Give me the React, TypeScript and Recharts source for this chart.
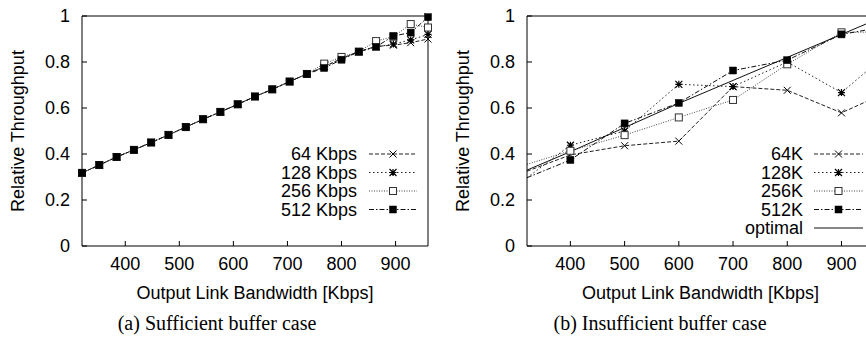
import React from 'react';
import { LineChart, Line, XAxis, YAxis, Legend } from 'recharts';

// (a) sufficient buffer: samples every 32 Kbps
const bwSufficient = [320, 352, 384, 416, 448, 480, 512, 544, 576, 608, 640, 672, 704, 736, 768, 800, 832, 864, 896, 928, 960];
const suff64 = [0.318, 0.352, 0.387, 0.418, 0.45, 0.483, 0.517, 0.551, 0.583, 0.616, 0.65, 0.681, 0.715, 0.748, 0.78, 0.815, 0.845, 0.868, 0.873, 0.884, 0.9];
const suff128 = [0.318, 0.352, 0.387, 0.418, 0.45, 0.483, 0.517, 0.551, 0.583, 0.616, 0.65, 0.681, 0.715, 0.748, 0.78, 0.815, 0.845, 0.866, 0.878, 0.896, 0.92];
const suff256 = [0.318, 0.352, 0.387, 0.418, 0.45, 0.483, 0.517, 0.551, 0.583, 0.616, 0.65, 0.681, 0.715, 0.748, 0.793, 0.822, 0.845, 0.891, 0.91, 0.965, 0.95];
const suff512 = [0.318, 0.352, 0.387, 0.418, 0.45, 0.483, 0.517, 0.551, 0.583, 0.616, 0.65, 0.681, 0.715, 0.748, 0.774, 0.81, 0.845, 0.866, 0.913, 0.928, 0.995];

// (b) insufficient buffer (first and last points sit on / past the frame edge)
const bwInsufficient = [320, 400, 500, 600, 700, 800, 900, 960];
const insuff64 = [0.325, 0.396, 0.436, 0.456, 0.693, 0.677, 0.579, 0.643];
const insuff128 = [0.297, 0.438, 0.5, 0.703, 0.693, 0.8, 0.667, 0.787];
const insuff256 = [0.355, 0.414, 0.482, 0.559, 0.635, 0.79, 0.929, 0.93];
const insuff512 = [0.297, 0.374, 0.533, 0.622, 0.763, 0.808, 0.92, 0.945];
const insuffOptimal = [0.33, 0.41, 0.515, 0.62, 0.72, 0.82, 0.92, 0.98];

const xTicks = [400, 500, 600, 700, 800, 900];
const yTicks = [0, 0.2, 0.4, 0.6, 0.8, 1];

const sufficientRows = bwSufficient.map((bw, i) => ({
  bw, k64: suff64[i], k128: suff128[i], k256: suff256[i], k512: suff512[i]
}));
const insufficientRows = bwInsufficient.map((bw, i) => ({
  bw, k64: insuff64[i], k128: insuff128[i], k256: insuff256[i], k512: insuff512[i], opt: insuffOptimal[i]
}));

const FONT = '"Liberation Sans", Arial, sans-serif';
const SERIF = '"Liberation Serif", "Times New Roman", serif';

type MarkerKind = 'cross' | 'star' | 'box' | 'filled' | 'none';

const styles: Record<string, { dash?: string; marker: MarkerKind; color: string }> = {
  k64: { dash: '4 2', marker: 'cross', color: '#222' },
  k128: { dash: '1.5 2.5', marker: 'star', color: '#222' },
  k256: { dash: '1 1.5', marker: 'box', color: '#444' },
  k512: { dash: '5 2 1.5 2', marker: 'filled', color: '#111' },
  opt: { marker: 'none', color: '#111' },
};

const Marker = ({ kind, cx, cy }: { kind: MarkerKind; cx?: number; cy?: number }) => {
  if (cx == null || cy == null || kind === 'none') return null;
  const s = 3.5;
  if (kind === 'cross') {
    return <path d={`M${cx - s},${cy - s}L${cx + s},${cy + s}M${cx - s},${cy + s}L${cx + s},${cy - s}`} stroke="#000" strokeWidth={1} fill="none" />;
  }
  if (kind === 'star') {
    return <path d={`M${cx - s},${cy - s}L${cx + s},${cy + s}M${cx - s},${cy + s}L${cx + s},${cy - s}M${cx},${cy - s}L${cx},${cy + s}M${cx - s},${cy}L${cx + s},${cy}`} stroke="#000" strokeWidth={1.2} fill="none" />;
  }
  if (kind === 'box') {
    return <rect x={cx - s} y={cy - s} width={2 * s} height={2 * s} fill="#fff" stroke="#333" strokeWidth={1} />;
  }
  return <rect x={cx - s} y={cy - s} width={2 * s} height={2 * s} fill="#000" stroke="#000" strokeWidth={0.5} />;
};

// skipFirst: in (b) the first sample lies on the frame, gnuplot shows no point there
const makeDot = (key: string, skipFirst = false) => (p: any) => {
  if (skipFirst && p.index === 0) return <g key={`${key}-${p.index}`} />;
  return <Marker key={`${key}-${p.index}`} kind={styles[key].marker} cx={p.cx} cy={p.cy} />;
};

const tickStyle = { fill: '#000', fontSize: 18, fontFamily: FONT };

const XLabel = ({ viewBox }: any) => (
  <text x={viewBox.x + viewBox.width / 2} y={299} textAnchor="middle" fill="#000" fontSize={18} fontFamily={FONT}>
    Output Link Bandwidth [Kbps]
  </text>
);

const makeYLabel = (lx: number) => ({ viewBox }: any) => {
  const cy = viewBox.y + viewBox.height / 2;
  return (
    <text x={lx} y={cy} transform={`rotate(-90 ${lx} ${cy})`} textAnchor="middle" dominantBaseline="central" fill="#000" fontSize={18} fontFamily={FONT}>
      Relative Throughput
    </text>
  );
};

const makeLegend = (keys: string[], names: string[], textRight: number, lineX1: number, lineX2: number, w: number, h: number) => () => (
  <svg width={w} height={h} style={{ overflow: 'visible' }}>
    {keys.map((k, i) => {
      const y = 154 + i * 18.5;
      const st = styles[k];
      return (
        <g key={k}>
          <text x={textRight} y={y} textAnchor="end" dominantBaseline="central" fill="#000" fontSize={18} fontFamily={FONT}>{names[i]}</text>
          <line x1={lineX1} x2={lineX2} y1={y} y2={y} stroke={st.color} strokeWidth={1} strokeDasharray={st.dash} />
          <Marker kind={st.marker} cx={(lineX1 + lineX2) / 2} cy={y} />
        </g>
      );
    })}
  </svg>
);

const Caption = ({ left, text }: { left: number; text: string }) => (
  <div style={{ position: 'absolute', left: left - 150, top: 312, width: 300, textAlign: 'center', fontFamily: SERIF, fontSize: 20, color: '#000', lineHeight: '22px' }}>
    {text}
  </div>
);

const frame = { stroke: '#000', strokeWidth: 1 };

export default function App() {
  const leftKeys = ['k64', 'k128', 'k256', 'k512'];
  const rightKeys = ['k64', 'k128', 'k256', 'k512', 'opt'];
  return (
    <div style={{ position: 'absolute', left: 0, top: 0, width: 866, height: 343, overflow: 'hidden', background: '#fff' }}>
      <div style={{ position: 'absolute', left: 0, top: 0 }}>
        <LineChart width={433} height={343} data={sufficientRows} margin={{ top: 0, right: 0, bottom: 67, left: 0 }}>
          <XAxis dataKey="bw" type="number" domain={[320, 960]} ticks={xTicks} height={30} tickSize={-5} tickMargin={16}
            axisLine={frame} tickLine={frame} tick={tickStyle} label={<XLabel />} />
          <XAxis xAxisId="top" orientation="top" dataKey="bw" type="number" domain={[320, 960]} ticks={xTicks} height={16}
            tickSize={-5} axisLine={frame} tickLine={frame} tick={false} />
          <YAxis type="number" domain={[0, 1]} ticks={yTicks} width={82} tickSize={-5} tickMargin={17}
            axisLine={frame} tickLine={frame} tick={tickStyle} tickFormatter={(v: number) => String(v)} label={makeYLabel(18)} />
          <YAxis yAxisId="right" orientation="right" type="number" domain={[0, 1]} ticks={yTicks} width={5} tickSize={-5}
            axisLine={frame} tickLine={frame} tick={false} />
          {leftKeys.map(k => (
            <Line key={k} dataKey={k} type="linear" stroke={styles[k].color} strokeWidth={1} strokeDasharray={styles[k].dash}
              dot={makeDot(k)} activeDot={false} isAnimationActive={false} />
          ))}
          <Legend layout="vertical" align="center" verticalAlign="middle"
            wrapperStyle={{ left: 0, top: 0, width: 433, height: 343, margin: 0, padding: 0 }}
            content={makeLegend(leftKeys, ['64 Kbps', '128 Kbps', '256 Kbps', '512 Kbps'], 357, 369, 417, 433, 343)} />
        </LineChart>
      </div>
      <div style={{ position: 'absolute', left: 433, top: 0 }}>
        <LineChart width={446} height={343} data={insufficientRows} margin={{ top: 0, right: 0, bottom: 67, left: 0 }}>
          <XAxis dataKey="bw" type="number" domain={[320, 960]} ticks={xTicks} height={30} tickSize={-5} tickMargin={16}
            axisLine={frame} tickLine={frame} tick={tickStyle} label={<XLabel />} />
          <XAxis xAxisId="top" orientation="top" dataKey="bw" type="number" domain={[320, 960]} ticks={xTicks} height={16}
            tickSize={-5} axisLine={frame} tickLine={frame} tick={false} />
          <YAxis type="number" domain={[0, 1]} ticks={yTicks} width={94} tickSize={-5} tickMargin={17}
            axisLine={frame} tickLine={frame} tick={tickStyle} tickFormatter={(v: number) => String(v)} label={makeYLabel(30)} />
          <YAxis yAxisId="right" orientation="right" type="number" domain={[0, 1]} ticks={yTicks} width={5} tickSize={-5}
            axisLine={frame} tickLine={frame} tick={false} />
          {rightKeys.map(k => (
            <Line key={k} dataKey={k} type="linear" stroke={styles[k].color} strokeWidth={1} strokeDasharray={styles[k].dash}
              dot={styles[k].marker === 'none' ? false : makeDot(k, true)} activeDot={false} isAnimationActive={false} />
          ))}
          <Legend layout="vertical" align="center" verticalAlign="middle"
            wrapperStyle={{ left: 0, top: 0, width: 446, height: 343, margin: 0, padding: 0 }}
            content={makeLegend(rightKeys, ['64K', '128K', '256K', '512K', 'optimal'], 370, 381, 430, 446, 343)} />
        </LineChart>
      </div>
      <Caption left={217} text="(a) Sufficient buffer case" />
      <Caption left={660} text="(b) Insufficient buffer case" />
    </div>
  );
}
